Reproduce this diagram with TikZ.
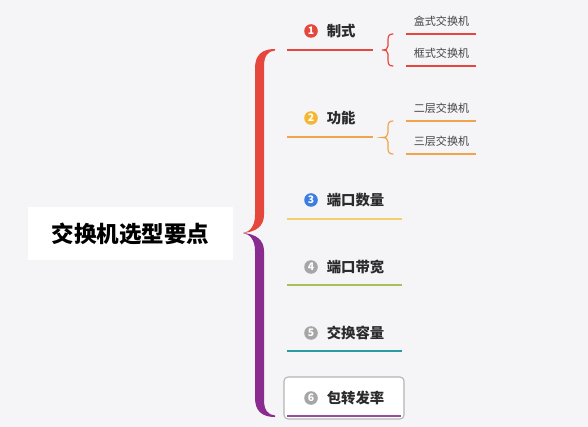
\documentclass[tikz,border=0pt]{standalone}
\usepackage{fontspec}
\setmainfont{Noto Sans CJK SC}
\definecolor{bg}{HTML}{F5F5F8}
\definecolor{txt}{HTML}{2B2B2B}
\definecolor{leaftxt}{HTML}{444444}
\definecolor{cred}{HTML}{E5473C}
\definecolor{corange}{HTML}{F0A54A}
\definecolor{cyellow}{HTML}{F5B731}
\definecolor{cline3}{HTML}{F2CF6A}
\definecolor{cblue}{HTML}{3C7EE0}
\definecolor{colive}{HTML}{A9BF5E}
\definecolor{cteal}{HTML}{2A9BA3}
\definecolor{cpurple}{HTML}{8A2C8F}
\definecolor{cgray}{HTML}{A6A6A6}
\definecolor{boxgray}{HTML}{B4B4B4}
\begin{document}
\begin{tikzpicture}[x=0.75pt,y=-0.75pt,
  branch/.style={anchor=west,font=\bfseries\fontsize{10.8}{12}\selectfont,text=txt,inner sep=0pt},
  leaf/.style={font=\fontsize{8.3}{10}\selectfont,text=leaftxt,inner sep=0pt},
  num/.style={circle,inner sep=0pt,minimum size=10.2pt,text=white,font=\bfseries\fontsize{7.8}{8}\selectfont},
  uline/.style={line width=1.1pt},
  sbrace/.style={line width=0.9pt,line cap=round}]
\fill[bg] (0,0) rectangle (588,427);
\useasboundingbox (0,0) rectangle (588,427);

% root
\node (root) [fill=white,minimum width=153.75pt,minimum height=39.75pt,inner sep=0pt,
  font=\bfseries\fontsize{16.9}{18}\selectfont,text=black] at (130.5,233.5) {交换机选型要点};

% big brace
\coordinate (tip) at (243,233);
\fill[cred] (275,49) .. controls (262,49) and (255,55) .. (255,68) -- (255,215)
  .. controls (255,226) and (250,232) .. (tip)
  .. controls (256,232) and (264,226) .. (264,215) -- (264,66)
  .. controls (264,56) and (268,51) .. (275,50.5) -- cycle;
\fill[cpurple] (tip) .. controls (250,234) and (255,240) .. (255,251) -- (255,398)
  .. controls (255,411) and (262,417) .. (275,417) -- (275,415.5)
  .. controls (268,415) and (264,410) .. (264,400) -- (264,251)
  .. controls (264,240) and (256,234) .. (tip) -- cycle;

% box for item 6
\node (box6) [draw=boxgray,line width=0.8pt,rounded corners=3pt,fill=white,
  minimum width=90pt,minimum height=31.5pt,inner sep=0pt] at (344,398) {};

% branch labels
\node (n1) [num,fill=cred] at (311,31) {1};
\node (t1) [branch] at (326.5,31) {制式};
\node (n2) [num,fill=cyellow] at (311,118) {2};
\node (t2) [branch] at (326.5,118) {功能};
\node (n3) [num,fill=cblue] at (311,200) {3};
\node (t3) [branch] at (326.5,200) {端口数量};
\node (n4) [num,fill=cgray] at (311,267) {4};
\node (t4) [branch] at (326.5,267) {端口带宽};
\node (n5) [num,fill=cgray] at (311,333) {5};
\node (t5) [branch] at (326.5,333) {交换容量};
\node (n6) [num,fill=cgray] at (311,398) {6};
\node (t6) [branch] at (326.5,398) {包转发率};

% branch underlines
\coordinate (a1) at (287,50);  \coordinate (b1) at (373,50);
\coordinate (a2) at (287,137); \coordinate (b2) at (373,137);
\coordinate (a3) at (287,219); \coordinate (b3) at (402,219);
\coordinate (a4) at (287,285); \coordinate (b4) at (402,285);
\coordinate (a5) at (287,351); \coordinate (b5) at (402,351);
\coordinate (a6) at (287,416); \coordinate (b6) at (401,416);
\draw[uline,cred] (a1) -- (b1);
\draw[uline,corange] (a2) -- (b2);
\draw[uline,cline3] (a3) -- (b3);
\draw[uline,colive] (a4) -- (b4);
\draw[uline,cteal] (a5) -- (b5);
\draw[uline,cpurple!85] (a6) -- (b6);

% leaves
\node (s1) [leaf] at (441.5,21) {盒式交换机};
\node (s2) [leaf] at (441.5,53) {框式交换机};
\node (s3) [leaf] at (441.5,108) {二层交换机};
\node (s4) [leaf] at (441.5,141) {三层交换机};
\coordinate (sa1) at (406,34);  \coordinate (sb1) at (476,34);
\coordinate (sa2) at (406,66);  \coordinate (sb2) at (476,66);
\coordinate (sa3) at (406,121); \coordinate (sb3) at (476,121);
\coordinate (sa4) at (406,154); \coordinate (sb4) at (476,154);
\draw[uline,cred] (sa1) -- (sb1);
\draw[uline,cred] (sa2) -- (sb2);
\draw[uline,corange] (sa3) -- (sb3);
\draw[uline,corange] (sa4) -- (sb4);

% small braces
\coordinate (st1) at (382,50);
\draw[sbrace,cred] (393,34) .. controls (389,34) and (388,36) .. (388,40) -- (388,46)
  .. controls (388,49) and (386,50) .. (st1)
  .. controls (386,50) and (388,51) .. (388,54) -- (388,60)
  .. controls (388,64) and (389,66) .. (393,66);
\coordinate (st2) at (382,137.5);
\draw[sbrace,corange] (393,121) .. controls (389,121) and (388,123) .. (388,127) -- (388,133)
  .. controls (388,136) and (386,137.5) .. (st2)
  .. controls (386,137.5) and (388,139) .. (388,142) -- (388,148)
  .. controls (388,152) and (389,154) .. (393,154);
\end{tikzpicture}
\end{document}
